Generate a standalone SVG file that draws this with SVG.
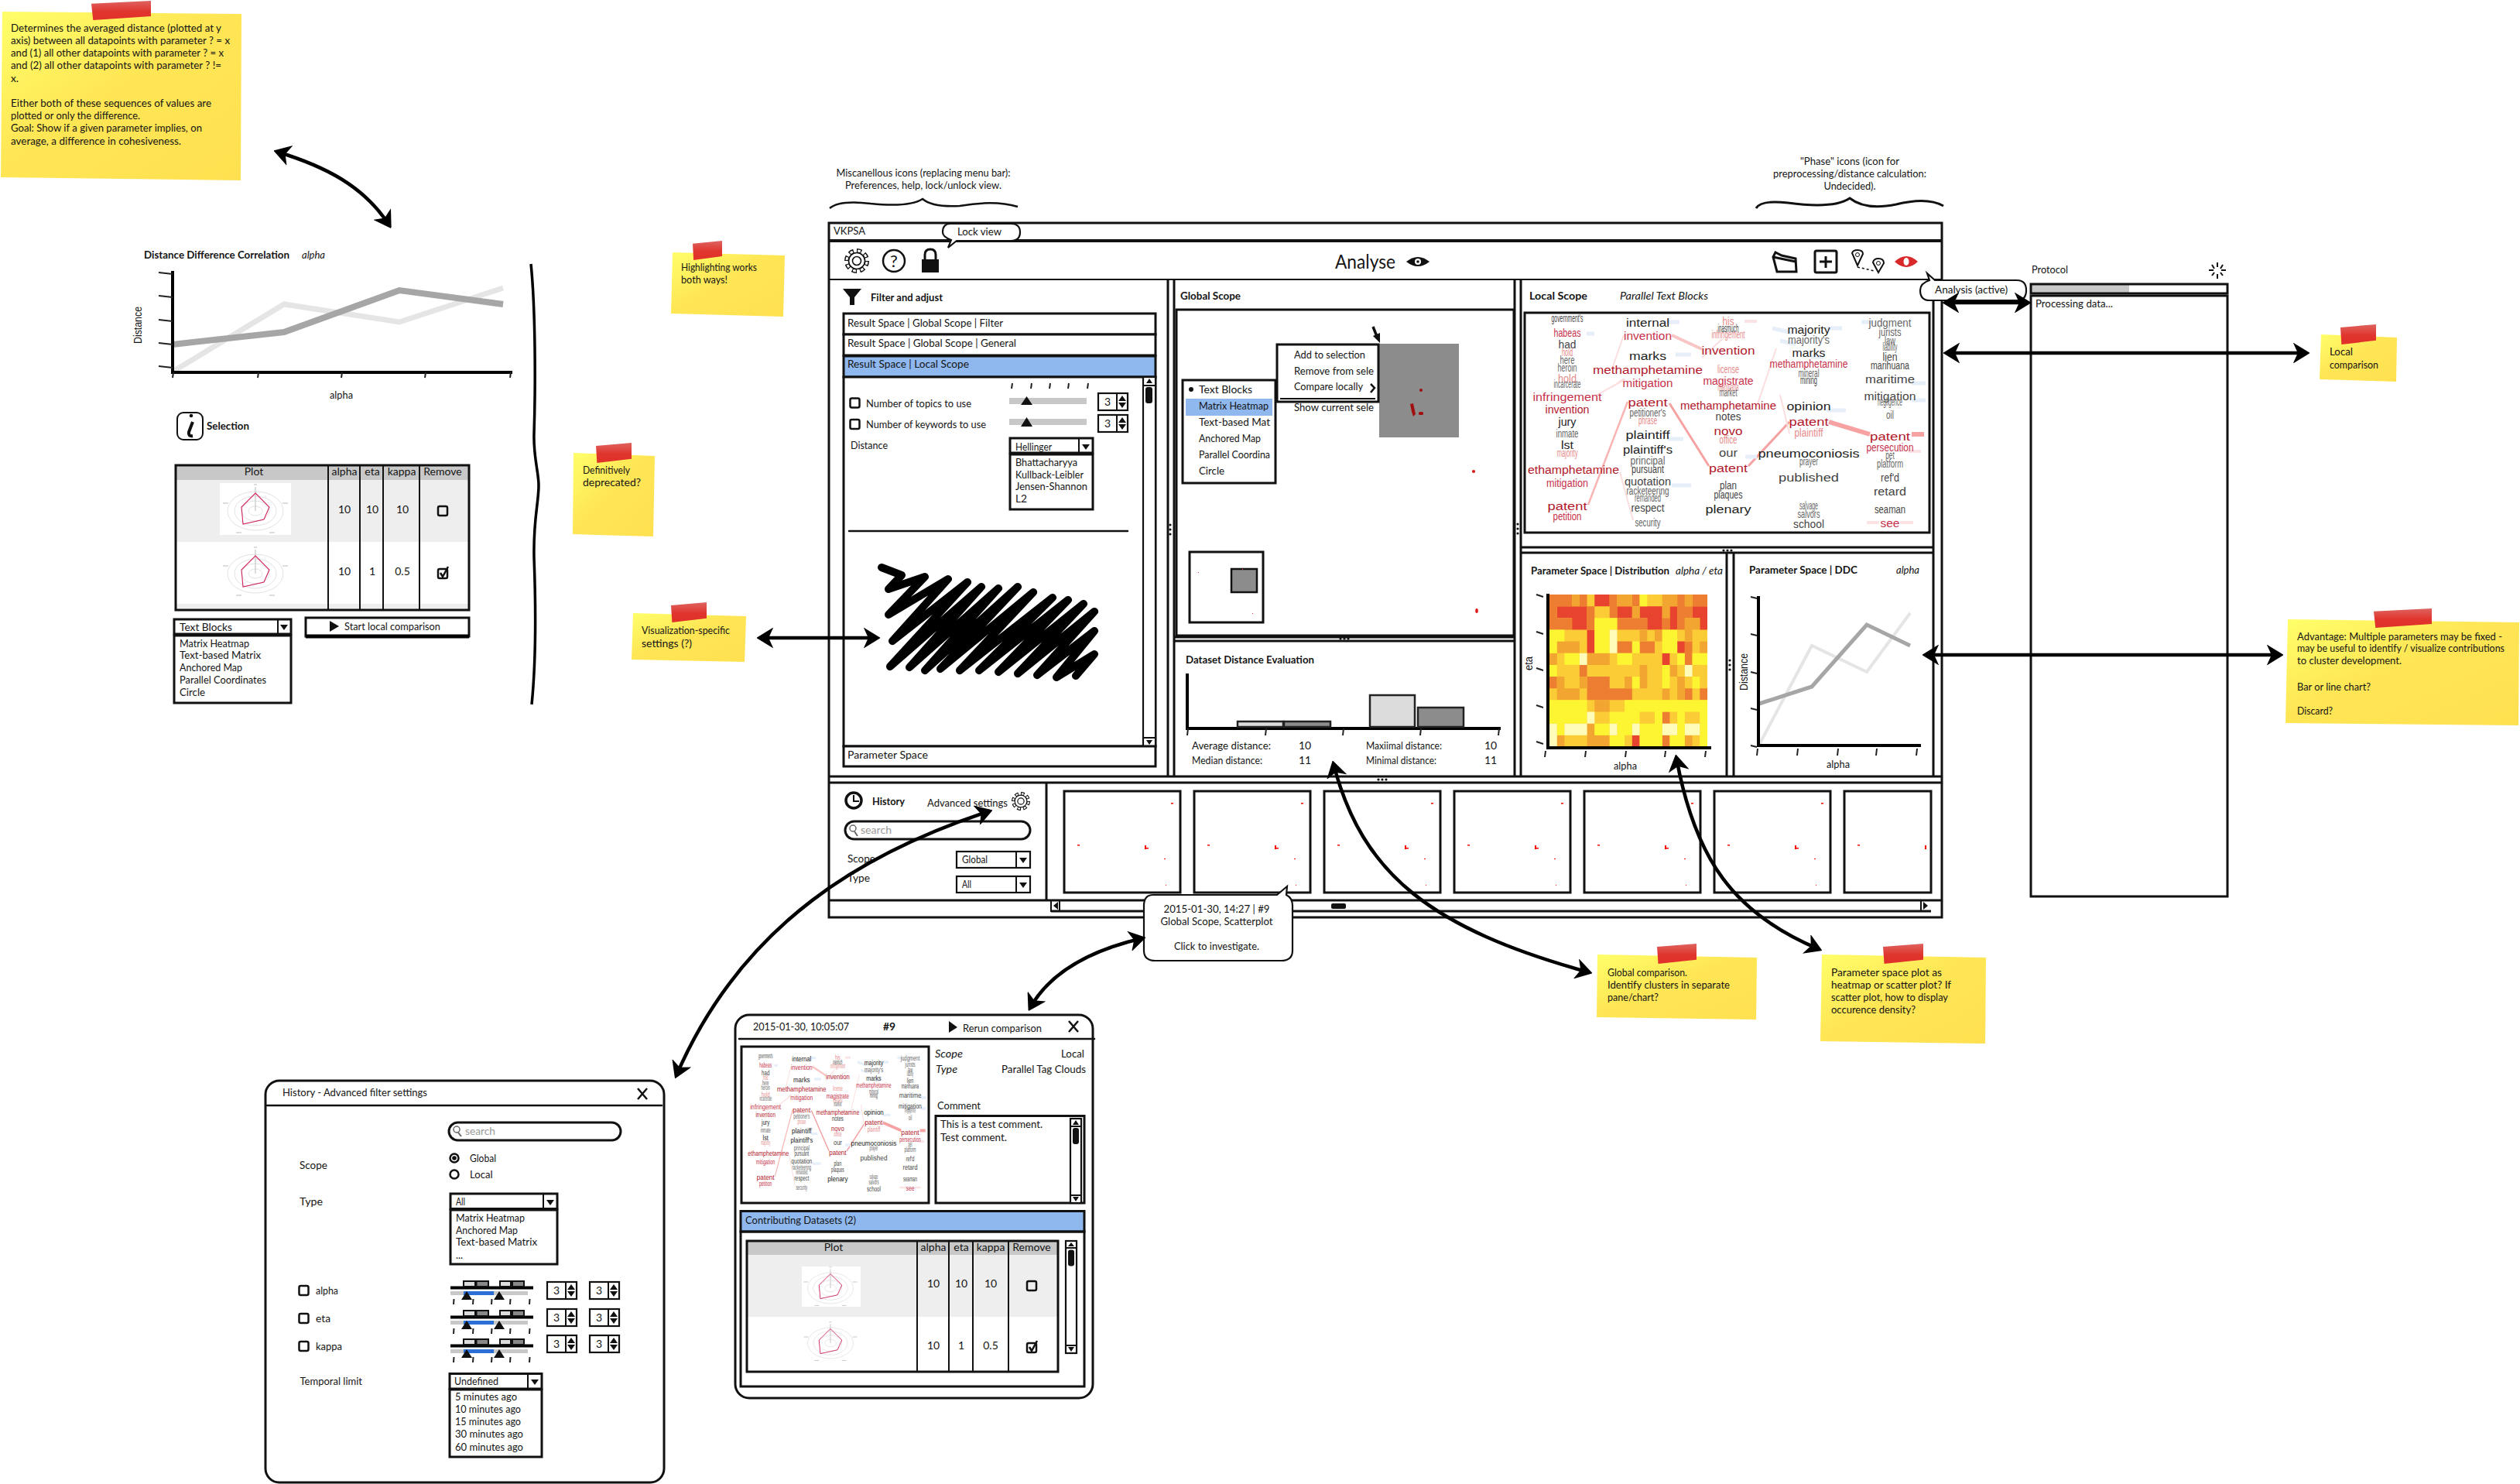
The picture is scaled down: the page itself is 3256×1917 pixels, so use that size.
<svg xmlns="http://www.w3.org/2000/svg" xmlns:xlink="http://www.w3.org/1999/xlink" width="3256" height="1917" viewBox="0 0 3256 1917">
<style>
text{font-family:Lato,"Liberation Sans",sans-serif;font-size:14px;fill:#141414}
.b{font-weight:700}.i{font-style:italic}.m{text-anchor:middle}.g{fill:#9a9a9a}
.l{fill:none;stroke:#111;stroke-width:2.5;stroke-linecap:round}
.bx{fill:#fff;stroke:#111;stroke-width:3}
.bt{fill:#fff;stroke:#111;stroke-width:2.2}
.n{fill:none;stroke:#111;stroke-width:3}
.nt{fill:none;stroke:#111;stroke-width:2}
.arrow{fill:none;stroke:#000;stroke-width:4.5;marker-start:url(#ah);marker-end:url(#ah)}
.ax{fill:none;stroke:#000;stroke-width:4}
.tk{fill:none;stroke:#222;stroke-width:2}
.wc text{font-family:"Liberation Sans",Arial,sans-serif;text-anchor:middle}
.r1{fill:#b2182b}.r2{fill:#c6304a}.r3{fill:#e58a8a}.k1{fill:#222}.k2{fill:#444}.k3{fill:#666}
.hm path{fill:none;stroke-width:1}
</style>
<defs>
<linearGradient id="ng" x1="0" y1="0" x2="1" y2="1"><stop offset="0" stop-color="#ffff6a"/><stop offset=".45" stop-color="#ffe655"/><stop offset="1" stop-color="#ffe050"/></linearGradient>
<linearGradient id="tg" x1="0" y1="0" x2="0" y2="1"><stop offset="0" stop-color="#de6360"/><stop offset=".55" stop-color="#e0352d"/><stop offset="1" stop-color="#e0302a"/></linearGradient>
<marker id="ah" viewBox="-18 -13 22 26" refX="0" refY="0" markerWidth="22" markerHeight="26" markerUnits="userSpaceOnUse" orient="auto-start-reverse"><path d="M-15 -11L3 0L-15 11L-10 0Z" fill="#000" stroke="#000" stroke-width="2"/></marker>
<path id="tape" d="M0 .15L1 0V.8L.03 1Z" fill="url(#tg)"/>
<path id="da" d="M-5 -3H5L0 4Z" fill="#111"/>
<g id="spin"><rect x="0" y="0" width="38" height="22" class="bt"/><path d="M24 0V22" class="nt"/><path d="M26 10L31 3L36 10ZM26 12H36L31 19Z" fill="#111"/><text x="12" y="16" class="m">3</text></g>
<rect id="chk" x="-6" y="-6" width="12" height="12" rx="2" fill="none" stroke="#111" stroke-width="2.5"/>
<path id="ck" d="M-3 -1L0 4L7 -9" fill="none" stroke="#111" stroke-width="2.5"/>
<g id="radar"><ellipse rx="36" ry="25" fill="none" stroke="#e2e2e2"/><ellipse rx="27" ry="19" fill="none" stroke="#e2e2e2"/><ellipse rx="18" ry="13" fill="none" stroke="#e2e2e2"/><ellipse rx="9" ry="6" fill="none" stroke="#e2e2e2"/><path d="M0 -31V0M-42 -10h7M42 -10h-7M-25 28h7M25 28h-7M-2 -34h4" fill="none" stroke="#bbb"/><path d="M0 -23L18 -5L11 11L-16 17L-18 -5Z" fill="none" stroke="#d0235f" stroke-width="1.1"/></g>
<g id="ts" fill="none" stroke="#222" stroke-width="2"><path d="M4 0L3 7M29 0L28 7M53 0L52 7M77 0L76 7M102 0L101 7"/></g>
<g id="gh" fill="#111"><circle cx="-5" r="1.6"/><circle r="1.6"/><circle cx="5" r="1.6"/></g>
<g id="gv" fill="#111"><circle cy="-6" r="1.6"/><circle r="1.6"/><circle cy="6" r="1.6"/></g>
<g id="gear"><circle r="13" pathLength="80" fill="none" stroke="#111" stroke-width="6" stroke-dasharray="6 4"/><circle r="13" pathLength="80" fill="none" stroke="#fff" stroke-width="3" stroke-dasharray="3.6 6.4" stroke-dashoffset="-1.2"/><circle r="10.5" fill="#fff" stroke="#111" stroke-width="1.6"/><circle r="5.5" fill="#fff" stroke="#111" stroke-width="1.6"/></g>
<g id="thumb"><rect x="0" y="0" width="150" height="131" class="bx"/><g fill="#f00"><rect x="138" y="15" width="3" height="1.5"/><rect x="17" y="69" width="3" height="1.5"/><rect x="104" y="70" width="2" height="5"/><rect x="106" y="73" width="3" height="1.5"/><rect x="129" y="87" width="2" height="1"/><rect x="131" y="121" width="1" height="1"/></g></g>
<g id="rng"><path d="M582 1663.5H689" class="ax"/><path d="M599 1662V1655H614V1662ZM646 1662V1655H660V1662Z" fill="#ddd" stroke="#111" stroke-width="2"/><path d="M615.5 1662V1655H631V1662ZM662 1662V1655H677V1662Z" fill="#888" stroke="#111" stroke-width="2"/><rect x="582" y="1668" width="100" height="5" fill="#c8c8c8"/><rect x="599" y="1668" width="39" height="5" fill="#2b6fd6"/><path d="M596 1679L603 1668L610 1679ZM638 1679L645 1668L652 1679Z" fill="#111"/><path d="M586.5 1678L586 1685M611.5 1678L611 1685M635.5 1678L635 1685M659.5 1678L659 1685M684.5 1678L684 1685" class="tk"/></g>
<g id="wc" class="wc">
<g fill="none"><path d="M2363 545L2416 561" stroke="#f6a2a2" stroke-width="6"/><path d="M2470 561H2486" stroke="#f6a2a2" stroke-width="6"/><path d="M2157 521L2208 602M2259 602L2312 545" stroke="#f6a2a2" stroke-width="3"/><path d="M2052 652L2103 519" stroke="#f9b4b4" stroke-width="2.5"/><path d="M2160 433L2199 451" stroke="#f9c4c4" stroke-width="4"/><path d="M2083 476L2098 433M2199 462L2225 438M2083 500L2098 489M2060 512L2100 490M2093 610L2110 672M2270 525L2295 450M2300 510L2312 560" stroke="#fbdede" stroke-width="2"/><path d="M2050 431H2060M2150 416H2170M2185 458H2165M2360 424H2380M2405 416H2420M2356 461H2340M2155 567H2175M2160 627H2185M2255 590H2270M2360 530H2385M2470 495H2488M2470 517H2488M2290 424L2315 430M2320 445L2300 440" stroke="#e6eefa" stroke-width="5"/><path d="M2254 415H2270M2244 525H2260M2465 583H2482M2455 675H2472M2412 675H2428" stroke="#fce2e2" stroke-width="4"/></g>
<text x="2025" y="416" font-size="7" textLength="41" lengthAdjust="spacingAndGlyphs" class="k2">government's</text>
<text x="2025" y="435" font-size="12" textLength="35" lengthAdjust="spacingAndGlyphs" class="r2">habeas</text>
<text x="2025" y="450" font-size="14" textLength="23" lengthAdjust="spacingAndGlyphs" class="k2">had</text>
<text x="2025" y="460" font-size="9" textLength="14" lengthAdjust="spacingAndGlyphs" class="r3">hold</text>
<text x="2025" y="470" font-size="9" textLength="19" lengthAdjust="spacingAndGlyphs" class="k3">here</text>
<text x="2025" y="480" font-size="9" textLength="25" lengthAdjust="spacingAndGlyphs" class="k3">heroin</text>
<text x="2025" y="494" font-size="15" textLength="24" lengthAdjust="spacingAndGlyphs" class="r3">hold</text>
<text x="2025" y="501" font-size="6" textLength="35" lengthAdjust="spacingAndGlyphs" class="k3">incarcerate</text>
<text x="2025" y="518" font-size="18" textLength="89" lengthAdjust="spacingAndGlyphs" class="r2">infringement</text>
<text x="2025" y="534" font-size="15" textLength="57" lengthAdjust="spacingAndGlyphs" class="r1">invention</text>
<text x="2025" y="550" font-size="16" textLength="23" lengthAdjust="spacingAndGlyphs" class="k1">jury</text>
<text x="2025" y="564.5" font-size="10" textLength="29" lengthAdjust="spacingAndGlyphs" class="k3">inmate</text>
<text x="2025" y="580" font-size="17" textLength="16" lengthAdjust="spacingAndGlyphs" class="k1">lst</text>
<text x="2025" y="590" font-size="9" textLength="27" lengthAdjust="spacingAndGlyphs" class="r3">majority</text>
<text x="2033" y="612" font-size="18" textLength="118" lengthAdjust="spacingAndGlyphs" class="r1">ethamphetamine</text>
<text x="2025" y="629" font-size="14" textLength="54" lengthAdjust="spacingAndGlyphs" class="r2">mitigation</text>
<text x="2025" y="659" font-size="20" textLength="51" lengthAdjust="spacingAndGlyphs" class="r1">patent</text>
<text x="2025" y="672" font-size="12" textLength="37" lengthAdjust="spacingAndGlyphs" class="r2">petition</text>
<text x="2129" y="422" font-size="18" textLength="56" lengthAdjust="spacingAndGlyphs" class="k1">internal</text>
<text x="2129" y="439" font-size="17" textLength="62" lengthAdjust="spacingAndGlyphs" class="r2">invention</text>
<text x="2129" y="465" font-size="19" textLength="48" lengthAdjust="spacingAndGlyphs" class="k1">marks</text>
<text x="2129" y="483" font-size="20" textLength="142" lengthAdjust="spacingAndGlyphs" class="r1">methamphetamine</text>
<text x="2129" y="499.5" font-size="16" textLength="65" lengthAdjust="spacingAndGlyphs" class="r2">mitigation</text>
<text x="2129" y="525" font-size="20" textLength="51" lengthAdjust="spacingAndGlyphs" class="r1">patent</text>
<text x="2129" y="537.5" font-size="10" textLength="47" lengthAdjust="spacingAndGlyphs" class="k3">petitioner's</text>
<text x="2129" y="548" font-size="9" textLength="24" lengthAdjust="spacingAndGlyphs" class="r3">phrase</text>
<text x="2129" y="567" font-size="20" textLength="57" lengthAdjust="spacingAndGlyphs" class="k1">plaintiff</text>
<text x="2129" y="585.5" font-size="19" textLength="64" lengthAdjust="spacingAndGlyphs" class="k1">plaintiff's</text>
<text x="2129" y="600" font-size="13" textLength="45" lengthAdjust="spacingAndGlyphs" class="k3">principal</text>
<text x="2129" y="611" font-size="11" textLength="42" lengthAdjust="spacingAndGlyphs" class="k2">pursuant</text>
<text x="2129" y="627" font-size="15" textLength="60" lengthAdjust="spacingAndGlyphs" class="k2">quotation</text>
<text x="2129" y="639" font-size="12" textLength="55" lengthAdjust="spacingAndGlyphs" class="k3">racketeering</text>
<text x="2129" y="648" font-size="9" textLength="34" lengthAdjust="spacingAndGlyphs" class="k3">remanded</text>
<text x="2129" y="661" font-size="14" textLength="43" lengthAdjust="spacingAndGlyphs" class="k2">respect</text>
<text x="2129" y="680" font-size="10" textLength="33" lengthAdjust="spacingAndGlyphs" class="k3">security</text>
<text x="2233" y="420" font-size="14" textLength="15" lengthAdjust="spacingAndGlyphs" class="r3">his</text>
<text x="2233" y="428.5" font-size="7" textLength="27" lengthAdjust="spacingAndGlyphs" class="k2">inasmuch</text>
<text x="2233" y="437" font-size="9" textLength="43" lengthAdjust="spacingAndGlyphs" class="r3">infringement</text>
<text x="2233" y="458" font-size="19" textLength="69" lengthAdjust="spacingAndGlyphs" class="r1">invention</text>
<text x="2233" y="482" font-size="11" textLength="28" lengthAdjust="spacingAndGlyphs" class="r3">license</text>
<text x="2233" y="496.5" font-size="15" textLength="65" lengthAdjust="spacingAndGlyphs" class="r2">magistrate</text>
<text x="2233" y="504.5" font-size="7" textLength="27" lengthAdjust="spacingAndGlyphs" class="r3">marijuana</text>
<text x="2233" y="512" font-size="8" textLength="23" lengthAdjust="spacingAndGlyphs" class="k3">market</text>
<text x="2233" y="529" font-size="18" textLength="124" lengthAdjust="spacingAndGlyphs" class="r1">methamphetamine</text>
<text x="2233" y="542.5" font-size="13" textLength="33" lengthAdjust="spacingAndGlyphs" class="k2">notes</text>
<text x="2233" y="562" font-size="19" textLength="37" lengthAdjust="spacingAndGlyphs" class="r1">novo</text>
<text x="2233" y="573" font-size="11" textLength="23" lengthAdjust="spacingAndGlyphs" class="r3">office</text>
<text x="2233" y="590" font-size="18" textLength="24" lengthAdjust="spacingAndGlyphs" class="k2">our</text>
<text x="2233" y="610" font-size="19" textLength="50" lengthAdjust="spacingAndGlyphs" class="r1">patent</text>
<text x="2233" y="631.5" font-size="13" textLength="22" lengthAdjust="spacingAndGlyphs" class="k2">plan</text>
<text x="2233" y="644" font-size="12" textLength="37" lengthAdjust="spacingAndGlyphs" class="k2">plaques</text>
<text x="2233" y="663" font-size="20" textLength="59" lengthAdjust="spacingAndGlyphs" class="k1">plenary</text>
<text x="2337" y="430.5" font-size="18" textLength="55" lengthAdjust="spacingAndGlyphs" class="k1">majority</text>
<text x="2337" y="444" font-size="14" textLength="54" lengthAdjust="spacingAndGlyphs" class="k3">majority's</text>
<text x="2337" y="461" font-size="18" textLength="43" lengthAdjust="spacingAndGlyphs" class="k1">marks</text>
<text x="2337" y="475" font-size="14" textLength="101" lengthAdjust="spacingAndGlyphs" class="r2">methamphetamine</text>
<text x="2337" y="487" font-size="9" textLength="27" lengthAdjust="spacingAndGlyphs" class="k3">mineral</text>
<text x="2337" y="496" font-size="8" textLength="22" lengthAdjust="spacingAndGlyphs" class="k2">mining</text>
<text x="2337" y="530" font-size="21" textLength="57" lengthAdjust="spacingAndGlyphs" class="k1">opinion</text>
<text x="2337" y="550" font-size="20" textLength="51" lengthAdjust="spacingAndGlyphs" class="r1">patent</text>
<text x="2337" y="563.5" font-size="13" textLength="37" lengthAdjust="spacingAndGlyphs" class="r3">plaintiff</text>
<text x="2337" y="591" font-size="21" textLength="131" lengthAdjust="spacingAndGlyphs" class="k1">pneumoconiosis</text>
<text x="2337" y="600.5" font-size="7" textLength="24" lengthAdjust="spacingAndGlyphs" class="k3">prayer</text>
<text x="2337" y="621.5" font-size="20" textLength="78" lengthAdjust="spacingAndGlyphs" class="k2">published</text>
<text x="2337" y="658" font-size="7" textLength="24" lengthAdjust="spacingAndGlyphs" class="k3">salvage</text>
<text x="2337" y="668.5" font-size="10" textLength="29" lengthAdjust="spacingAndGlyphs" class="k3">salvors</text>
<text x="2337" y="682" font-size="13" textLength="40" lengthAdjust="spacingAndGlyphs" class="k2">school</text>
<text x="2442" y="421.6" font-size="16" textLength="55" lengthAdjust="spacingAndGlyphs" class="k3">judgment</text>
<text x="2442" y="434" font-size="13" textLength="29" lengthAdjust="spacingAndGlyphs" class="k3">jurists</text>
<text x="2442" y="444.5" font-size="11" textLength="14" lengthAdjust="spacingAndGlyphs" class="k3">law</text>
<text x="2442" y="452.5" font-size="8" textLength="19" lengthAdjust="spacingAndGlyphs" class="k3">liability</text>
<text x="2442" y="466" font-size="16" textLength="19" lengthAdjust="spacingAndGlyphs" class="k2">lien</text>
<text x="2442" y="477" font-size="11" textLength="50" lengthAdjust="spacingAndGlyphs" class="k2">marihuana</text>
<text x="2442" y="495" font-size="19" textLength="64" lengthAdjust="spacingAndGlyphs" class="k2">maritime</text>
<text x="2442" y="517" font-size="19" textLength="67" lengthAdjust="spacingAndGlyphs" class="k2">mitigation</text>
<text x="2442" y="524.4" font-size="8" textLength="32" lengthAdjust="spacingAndGlyphs" class="k3">negligence</text>
<text x="2442" y="541" font-size="10" textLength="10" lengthAdjust="spacingAndGlyphs" class="k3">oil</text>
<text x="2442" y="569" font-size="21" textLength="52" lengthAdjust="spacingAndGlyphs" class="r1">patent</text>
<text x="2442" y="583" font-size="13" textLength="61" lengthAdjust="spacingAndGlyphs" class="r2">persecution</text>
<text x="2442" y="593" font-size="9" textLength="11.5" lengthAdjust="spacingAndGlyphs" class="k3">pet</text>
<text x="2442" y="604" font-size="12" textLength="34" lengthAdjust="spacingAndGlyphs" class="k3">platform</text>
<text x="2442" y="622" font-size="15" textLength="24" lengthAdjust="spacingAndGlyphs" class="k2">ref'd</text>
<text x="2442" y="640" font-size="19" textLength="42" lengthAdjust="spacingAndGlyphs" class="k2">retard</text>
<text x="2442" y="663" font-size="12" textLength="40" lengthAdjust="spacingAndGlyphs" class="k2">seaman</text>
<text x="2442" y="681" font-size="16" textLength="25" lengthAdjust="spacingAndGlyphs" class="r2">see</text>
</g>
</defs>
<rect width="3256" height="1917" fill="#fff"/>

<g id="note-ddc"><path d="M3 15L312 18L311 233L1 229Z" fill="url(#ng)"/><use href="#tape" transform="translate(118 1) scale(77 25)"/>
<text x="14" y="41" textLength="272" lengthAdjust="spacingAndGlyphs">Determines the averaged distance (plotted at y</text>
<text x="14" y="57" textLength="283" lengthAdjust="spacingAndGlyphs">axis) between all datapoints with parameter ? = x</text>
<text x="14" y="73" textLength="275" lengthAdjust="spacingAndGlyphs">and (1) all other datapoints with parameter ? = x</text>
<text x="14" y="89" textLength="272" lengthAdjust="spacingAndGlyphs">and (2) all other datapoints with parameter ? !=</text>
<text x="14" y="106" textLength="10" lengthAdjust="spacingAndGlyphs">x.</text>
<text x="14" y="138" textLength="259" lengthAdjust="spacingAndGlyphs">Either both of these sequences of values are</text>
<text x="14" y="154" textLength="167" lengthAdjust="spacingAndGlyphs">plotted or only the difference.</text>
<text x="14" y="170" textLength="247" lengthAdjust="spacingAndGlyphs">Goal: Show if a given parameter implies, on</text>
<text x="14" y="187" textLength="220" lengthAdjust="spacingAndGlyphs">average, a difference in cohesiveness.</text></g>

<g id="ddc-chart">
<text x="186" y="334" textLength="188" lengthAdjust="spacingAndGlyphs" class="b">Distance Difference Correlation</text>
<text x="390" y="334" textLength="30" lengthAdjust="spacingAndGlyphs" class="i">alpha</text>
<path d="M225 479L367 393L516 416L650 372" fill="none" stroke="#e5e5e5" stroke-width="7"/>
<path d="M223 445L367 429L516 375L650 393" fill="none" stroke="#a6a6a6" stroke-width="8"/>
<path d="M223 350V481H662" class="ax"/>
<path d="M205 352L223 354M205 382L223 384M205 413L223 415M205 443L223 445M205 473L223 475M224 481L223 488M334 481L333 488M442 481L441 488M550 481L549 488M660 481L659 488" class="tk"/>
<text transform="translate(183 420) rotate(-90)" class="m" textLength="48" lengthAdjust="spacingAndGlyphs" style="font-family:'Liberation Sans'">Distance</text>
<text x="441" y="515" class="m" textLength="30" lengthAdjust="spacingAndGlyphs">alpha</text>
</g>
<path id="brace-left" d="M686 341C692 400 692 500 690 560C689 590 696 610 696 627C696 650 689 670 690 720C693 800 692 860 687 910" fill="none" stroke="#000" stroke-width="3.5"/>

<g id="selection">
<rect x="229" y="533" width="33" height="35" rx="8" fill="none" stroke="#111" stroke-width="2"/><circle cx="247" cy="537" r="2.3" fill="#111"/><path d="M249 545L244 558Q243 564 249 563" fill="none" stroke="#111" stroke-width="4"/>
<text x="267" y="555" class="b" textLength="55" lengthAdjust="spacingAndGlyphs">Selection</text>
<rect x="227" y="601" width="379" height="19" fill="#c8c8c8"/><rect x="227" y="620" width="379" height="80" fill="#eee"/><rect x="227" y="780" width="379" height="8" fill="#eee"/><rect x="284" y="624" width="92" height="67" fill="#fff"/>
<use href="#radar" x="330" y="660"/><use href="#radar" x="330" y="741"/>
<rect x="227" y="601" width="379" height="187" class="n"/>
<path d="M424 601V788M465 601V788M495 601V788M542 601V788" class="nt"/>
<text x="328" y="614" class="m">Plot</text><text x="445" y="614" class="m">alpha</text><text x="481" y="614" class="m">eta</text><text x="519" y="614" class="m">kappa</text><text x="572" y="614" class="m">Remove</text>
<text x="445" y="663" class="m">10</text><text x="481" y="663" class="m">10</text><text x="520" y="663" class="m">10</text><text x="445" y="743" class="m">10</text><text x="481" y="743" class="m">1</text><text x="520" y="743" class="m">0.5</text>
<use href="#chk" x="572" y="660"/><use href="#chk" x="572" y="741"/><use href="#ck" x="572" y="741"/>
<rect x="225" y="800" width="151" height="19" class="bx"/><path d="M359 800V819" class="nt"/><use href="#da" x="367" y="810"/>
<text x="232" y="815" textLength="68" lengthAdjust="spacingAndGlyphs">Text Blocks</text>
<rect x="225" y="821" width="151" height="87" class="bx"/>
<text x="232" y="836" textLength="90" lengthAdjust="spacingAndGlyphs">Matrix Heatmap</text><text x="232" y="851" textLength="105" lengthAdjust="spacingAndGlyphs">Text-based Matrix</text><text x="232" y="867" textLength="81" lengthAdjust="spacingAndGlyphs">Anchored Map</text><text x="232" y="883" textLength="112" lengthAdjust="spacingAndGlyphs">Parallel Coordinates</text><text x="232" y="899" textLength="33" lengthAdjust="spacingAndGlyphs">Circle</text>
<rect x="395" y="798" width="211" height="24" class="bx"/><path d="M395 822H606" stroke="#000" stroke-width="5"/><path d="M426 802L438 809L426 816Z" fill="#111"/>
<text x="445" y="814" textLength="124" lengthAdjust="spacingAndGlyphs">Start local comparison</text>
</g>

<g id="note-deprecated"><path d="M741 585L846 589L844 693L740 690Z" fill="url(#ng)"/><use href="#tape" transform="translate(770 572) scale(46 26)"/><text x="753" y="612" textLength="61" lengthAdjust="spacingAndGlyphs">Definitively</text><text x="753" y="628" textLength="75" lengthAdjust="spacingAndGlyphs">deprecated?</text></g>
<g id="note-vis"><path d="M818 792L964 796L962 855L816 852Z" fill="url(#ng)"/><use href="#tape" transform="translate(867 778) scale(46 26)"/><text x="829" y="819" textLength="114" lengthAdjust="spacingAndGlyphs">Visualization-specific</text><text x="829" y="836" textLength="65" lengthAdjust="spacingAndGlyphs">settings (?)</text></g>
<g id="note-highlight"><path d="M869 326L1014 330L1012 409L867 405Z" fill="url(#ng)"/><use href="#tape" transform="translate(895 311) scale(38 25)"/><text x="880" y="350" textLength="98" lengthAdjust="spacingAndGlyphs">Highlighting works</text><text x="880" y="366" textLength="60" lengthAdjust="spacingAndGlyphs">both ways!</text></g>

<g id="annotations">
<text x="1193" y="228" class="m" textLength="225" lengthAdjust="spacingAndGlyphs">Miscanellous icons (replacing menu bar):</text>
<text x="1193" y="244" class="m" textLength="202" lengthAdjust="spacingAndGlyphs">Preferences, help, lock/unlock view.</text>
<path d="M1072 269Q1085 258 1125 263Q1175 268 1192 257Q1205 268 1240 266Q1285 258 1315 267" fill="none" stroke="#111" stroke-width="2.5"/>
<text x="2390" y="213" class="m" textLength="128" lengthAdjust="spacingAndGlyphs">"Phase" icons (icon for</text>
<text x="2390" y="229" class="m" textLength="198" lengthAdjust="spacingAndGlyphs">preprocessing/distance calculation:</text>
<text x="2390" y="245" class="m" textLength="67" lengthAdjust="spacingAndGlyphs">Undecided).</text>
<path d="M2269 269Q2275 258 2310 262Q2370 270 2390 256Q2410 272 2450 264Q2490 254 2511 266" fill="none" stroke="#111" stroke-width="3"/>
</g>

<g id="window">
<rect x="1071" y="288" width="1438" height="897" class="bx"/>
<path d="M1071 311H2509" fill="none" stroke="#111" stroke-width="4"/><path d="M1071 361H2509" class="nt"/>
<text x="1077" y="303" textLength="41" lengthAdjust="spacingAndGlyphs">VKPSA</text>
<use href="#gear" x="1107" y="337"/>
<circle cx="1155" cy="337" r="14" fill="none" stroke="#111" stroke-width="2.5"/><text x="1155" y="345" class="m" style="font-size:22px">?</text>
<path d="M1195 337V329Q1195 322 1202 322Q1209 322 1209 329V337" fill="none" stroke="#111" stroke-width="3"/><rect x="1191" y="335" width="22" height="17" fill="#111"/>
<text x="1725" y="347" textLength="78" lengthAdjust="spacingAndGlyphs" style="font-size:25px">Analyse</text>
<path d="M1817 338Q1832 326 1847 338Q1832 350 1817 338Z" fill="#111"/><circle cx="1832" cy="338" r="4" fill="#fff"/><circle cx="1832" cy="338" r="1.8" fill="#111"/>
<path d="M2291 332L2294 326L2302 330L2320 334L2321 351L2296 351Z" fill="none" stroke="#111" stroke-width="3"/><path d="M2291 332L2320 338" fill="none" stroke="#111" stroke-width="3"/>
<rect x="2345" y="324" width="28" height="28" rx="2" fill="none" stroke="#111" stroke-width="3"/><path d="M2359 331V346M2351 338H2367" fill="none" stroke="#111" stroke-width="3"/>
<path d="M2400 343L2393 327Q2394 323 2400 323Q2407 323 2407 328Z" fill="none" stroke="#111" stroke-width="2"/><circle cx="2400" cy="329" r="2.5" fill="none" stroke="#111"/><path d="M2427 352L2420 339Q2421 334 2427 334Q2434 334 2434 340Z" fill="none" stroke="#111" stroke-width="2"/><circle cx="2427" cy="340" r="2.5" fill="none" stroke="#111"/><path d="M2400 345L2422 350" fill="none" stroke="#111" stroke-width="1.5" stroke-dasharray="3 3"/>
<path d="M2448 338Q2463 324 2478 338Q2463 352 2448 338Z" fill="#d9282a"/><ellipse cx="2463" cy="338" rx="3.5" ry="5" fill="#fff"/>

<g id="panel-filter">
<path d="M1089 373H1113L1104 384V394H1098V384Z" fill="#111"/>
<text x="1125" y="389" class="b" textLength="93" lengthAdjust="spacingAndGlyphs">Filter and adjust</text>
<rect x="1090" y="405" width="403" height="27" class="bx"/><rect x="1090" y="432" width="403" height="27" class="bx"/><rect x="1090" y="460" width="403" height="27" fill="#8fb8ef" stroke="#111" stroke-width="3"/>
<text x="1095" y="422" textLength="201" lengthAdjust="spacingAndGlyphs">Result Space | Global Scope | Filter</text><text x="1095" y="448" textLength="218" lengthAdjust="spacingAndGlyphs">Result Space | Global Scope | General</text><text x="1095" y="475" textLength="157" lengthAdjust="spacingAndGlyphs">Result Space | Local Scope</text>
<rect x="1090" y="487" width="403" height="477" class="bx"/>
<rect x="1477" y="487" width="16" height="477" class="bt"/><path d="M1477 498H1493M1477 953H1493" class="nt"/><rect x="1480" y="500" width="9" height="21" rx="3" fill="#111"/><path d="M1481 495L1485 489L1489 495ZM1481 956H1489L1485 962Z" fill="#111"/>
<use href="#ts" x="1304" y="495"/>
<use href="#chk" x="1104.5" y="520.5"/><use href="#chk" x="1104.5" y="548"/>
<text x="1119" y="526" textLength="136" lengthAdjust="spacingAndGlyphs">Number of topics to use</text><text x="1119" y="553" textLength="155" lengthAdjust="spacingAndGlyphs">Number of keywords to use</text>
<rect x="1304" y="514" width="100" height="8" fill="#c8c8c8"/><rect x="1304" y="541" width="100" height="8" fill="#c8c8c8"/><path d="M1319 523L1326.5 512L1334 523ZM1319 551L1326.5 539L1334 551Z" fill="#111"/>
<use href="#spin" x="1419" y="508"/><use href="#spin" x="1419" y="536"/>
<text x="1099" y="580" textLength="48" lengthAdjust="spacingAndGlyphs">Distance</text>
<rect x="1305" y="566" width="107" height="19" class="bx"/><path d="M1394 566V585" class="nt"/><use href="#da" x="1403" y="577"/><text x="1312" y="582" textLength="47" lengthAdjust="spacingAndGlyphs">Hellinger</text>
<rect x="1305" y="587" width="107" height="71" class="bx"/><text x="1312" y="602" textLength="80" lengthAdjust="spacingAndGlyphs">Bhattacharyya</text><text x="1312" y="618" textLength="88" lengthAdjust="spacingAndGlyphs">Kullback-Leibler</text><text x="1312" y="633" textLength="93" lengthAdjust="spacingAndGlyphs">Jensen-Shannon</text><text x="1312" y="649" textLength="15" lengthAdjust="spacingAndGlyphs">L2</text>
<path d="M1097 686H1457" class="l"/>
<path d="M1139 733L1165 743L1148 761L1195 745L1148 794L1225 748L1153 828L1250 752L1150 861L1268 758L1175 862L1290 760L1195 866L1315 758L1215 864L1335 765L1240 866L1360 772L1265 866L1380 775L1290 868L1400 780L1315 870L1414 790L1340 872L1414 815L1365 875L1414 845L1390 873" fill="none" stroke="#000" stroke-width="10" stroke-linejoin="round" stroke-linecap="round"/>
<rect x="1090" y="964" width="403" height="26" class="bx"/><text x="1095" y="980" textLength="104" lengthAdjust="spacingAndGlyphs">Parameter Space</text>
</g>

<g id="panel-frames" class="n">
<path d="M1509 361V1003M1517 361V1003M1957 361V1003M1965 361V1003M1517 823H1957M1517 828H1957M1965 707H2498M1965 714H2498M2231 714V1003M2240 714V1003M2498 388V1003M1071 1003H2509M1071 1011H2509"/>
</g>
<use href="#gv" x="1512" y="684"/><use href="#gh" x="1737" y="825"/><use href="#gh" x="2232" y="711"/><use href="#gh" x="1786" y="1007"/><use href="#gv" x="2235" y="859"/><use href="#gv" x="1961" y="683"/>

<g id="panel-global">
<text x="1525" y="387" class="b" textLength="78" lengthAdjust="spacingAndGlyphs">Global Scope</text>
<rect x="1520" y="400" width="436" height="421" class="bx"/>
<rect x="1782" y="444" width="103" height="121" fill="#8c8c8c"/>
<g fill="#a01010"><circle cx="1836" cy="504" r="2"/><path d="M1822 522L1826 521L1829 535L1826 538L1824 532Z"/><rect x="1833" y="532" width="6" height="4" rx="1.5"/></g>
<circle cx="1904" cy="609" r="2" fill="#e01515"/><ellipse cx="1908" cy="789" rx="1.8" ry="3" fill="#e01515"/>
<rect x="1528" y="491" width="120" height="133" class="bx"/><rect x="1532" y="515" width="112" height="22" fill="#8fb8ef"/><circle cx="1539" cy="503" r="3" fill="#111"/>
<text x="1549" y="508" textLength="69" lengthAdjust="spacingAndGlyphs">Text Blocks</text><text x="1549" y="529" textLength="90" lengthAdjust="spacingAndGlyphs">Matrix Heatmap</text><text x="1549" y="550" textLength="92" lengthAdjust="spacingAndGlyphs">Text-based Mat</text><text x="1549" y="571" textLength="80" lengthAdjust="spacingAndGlyphs">Anchored Map</text><text x="1549" y="592" textLength="92" lengthAdjust="spacingAndGlyphs">Parallel Coordina</text><text x="1549" y="613" textLength="33" lengthAdjust="spacingAndGlyphs">Circle</text>
<text x="1672" y="530.5" textLength="103" lengthAdjust="spacingAndGlyphs">Show current sele</text>
<rect x="1650" y="445" width="131" height="74" class="bx"/>
<text x="1672" y="463" textLength="92" lengthAdjust="spacingAndGlyphs">Add to selection</text><text x="1672" y="484" textLength="103" lengthAdjust="spacingAndGlyphs">Remove from sele</text><text x="1672" y="504" textLength="89" lengthAdjust="spacingAndGlyphs">Compare locally</text>
<path d="M1771 496L1776 501L1771 507" fill="none" stroke="#111" stroke-width="2.5"/><path d="M1654 515H1777" stroke="#111" stroke-width="2"/>
<path d="M1774 422L1780 437" stroke="#111" stroke-width="3.5"/><path d="M1774 434L1783 443L1783 430Z" fill="#111"/>
<rect x="1537" y="713" width="95" height="91" class="bx"/><rect x="1591" y="735" width="33" height="30" fill="#8c8c8c" stroke="#111" stroke-width="2.5"/><g fill="#f33"><rect x="1548" y="739" width="1" height="1"/><rect x="1605" y="735" width="1" height="1"/><rect x="1618" y="792" width="1" height="1"/></g>
</g>

<g id="panel-eval">
<text x="1532" y="857" class="b" textLength="166" lengthAdjust="spacingAndGlyphs">Dataset Distance Evaluation</text>
<path d="M1534 870V941H1939" class="ax"/><path d="M1535 941L1534 950M1636 941L1635 950M1736 941L1735 950M1836 941L1835 950M1937 941L1936 950" class="tk"/>
<g stroke="#222" stroke-width="2.5"><rect x="1599" y="932" width="59" height="7" fill="#dcdcdc"/><rect x="1659" y="932" width="60" height="7" fill="#8c8c8c"/><rect x="1770" y="898" width="58" height="41" fill="#dcdcdc"/><rect x="1832" y="914" width="59" height="25" fill="#8c8c8c"/></g>
<text x="1540" y="968" textLength="102" lengthAdjust="spacingAndGlyphs">Average distance:</text><text x="1540" y="987" textLength="91" lengthAdjust="spacingAndGlyphs">Median distance:</text><text x="1686" y="968" class="m">10</text><text x="1686" y="987" class="m">11</text>
<text x="1765" y="968" textLength="98" lengthAdjust="spacingAndGlyphs">Maxiimal distance:</text><text x="1765" y="987" textLength="91" lengthAdjust="spacingAndGlyphs">Minimal distance:</text><text x="1926" y="968" class="m">10</text><text x="1926" y="987" class="m">11</text>
</g>

<g id="panel-local">
<text x="1976" y="387" class="b" textLength="75" lengthAdjust="spacingAndGlyphs">Local Scope</text><text x="2093" y="387" class="i" textLength="114" lengthAdjust="spacingAndGlyphs">Parallel Text Blocks</text>
<rect x="1970" y="404" width="523" height="284" class="bx"/>
<use href="#wc"/>
</g>

<g id="panel-dist">
<text x="1978" y="742" class="b" textLength="179" lengthAdjust="spacingAndGlyphs">Parameter Space | Distribution</text><text x="2165" y="742" class="i" textLength="61" lengthAdjust="spacingAndGlyphs">alpha / eta</text>
<g class="hm" transform="translate(2002 768) scale(9.714 15.15)">
<rect width="21" height="13" fill="#fbcc35"/>
<path stroke="#e8432e" d="M6 .5h2M1 1.5h4M9 1.5h2M12 1.5h3M16 1.5h1M19 1.5h2M3 2.5h2M13 2.5h2M16 2.5h1M20 2.5h1M5 3.5h1M5 4.5h1M17 4.5h1M15 5.5h1M11 12.5h1"/>
<path stroke="#ed7d31" d="M0 .5h3M4 .5h1M8 .5h1M11 .5h1M17 .5h1M19 .5h2M0 1.5h1M5 1.5h1M8 1.5h1M17 1.5h2M0 2.5h3M5 2.5h1M9 2.5h4M15 2.5h1M17 2.5h1M9 4.5h2M12 4.5h2M18 4.5h1M18 5.5h1M4 6.5h1M0 7.5h1M5 7.5h3M5 8.5h6M18 8.5h1M20 8.5h1M15 10.5h1M15 12.5h1"/>
<path stroke="#f2a530" d="M3 .5h1M9 .5h2M15 .5h2M18 .5h1M11 1.5h1M15 1.5h1M18 2.5h2M12 3.5h1M14 3.5h1M18 3.5h1M1 4.5h3M20 4.5h1M0 5.5h1M5 5.5h3M12 6.5h1M16 6.5h1M1 7.5h1M4 7.5h1M10 7.5h1M12 7.5h1M17 7.5h1M1 8.5h3M15 8.5h1M17 8.5h1M6 9.5h2M5 11.5h1M1 12.5h1M5 12.5h3M18 12.5h1"/>
<path stroke="#fef532" d="M12 .5h1M6 2.5h3M0 3.5h2M6 3.5h2M15 3.5h2M0 4.5h1M6 4.5h2M11 4.5h1M15 4.5h2M2 5.5h2M9 5.5h2M17 5.5h1M19 5.5h2M0 6.5h1M15 6.5h1M11 7.5h1M15 7.5h1M19 7.5h1M0 9.5h5M10 9.5h11M0 10.5h5M8 10.5h4M14 10.5h1M17 10.5h1M20 10.5h1M1 11.5h1M6 11.5h2M9 11.5h2M12 11.5h3M17 11.5h1M20 11.5h1M8 12.5h2M12 12.5h3M16 12.5h2M20 12.5h1"/>
<path stroke="#fffbb8" d="M8 3.5h1M8 4.5h1M4 5.5h1M18 6.5h1M5 10.5h1M0 11.5h1M2 11.5h3M8 11.5h1M11 11.5h1M15 11.5h2M18 11.5h2M0 12.5h1"/>
</g>
<path d="M2000 767V966H2211" class="ax"/>
<path d="M1985 768L1994 771M1985 816L1994 819M1985 863L1994 866M1985 911L1994 914M1985 958L1994 961M1997 970L1996 978M2049 970L2048 978M2101 970L2100 978M2152 970L2151 978M2204 970L2203 978" class="tk"/>
<text transform="translate(1980 857) rotate(-90)" class="m" textLength="18" lengthAdjust="spacingAndGlyphs" style="font-family:'Liberation Sans'">eta</text>
<text x="2100" y="994" class="m" textLength="30" lengthAdjust="spacingAndGlyphs">alpha</text>
</g>

<g id="panel-ddc">
<text x="2260" y="741" class="b" textLength="140" lengthAdjust="spacingAndGlyphs">Parameter Space | DDC</text><text x="2450" y="741" class="i" textLength="30" lengthAdjust="spacingAndGlyphs">alpha</text>
<path d="M2273 962L2341 834L2412 868L2468 792" fill="none" stroke="#e5e5e5" stroke-width="4"/>
<path d="M2273 909L2341 887L2412 807L2468 834" fill="none" stroke="#a6a6a6" stroke-width="5"/>
<path d="M2272 770V963H2482" class="ax"/>
<path d="M2262 771L2270 773M2262 819L2270 821M2262 868L2270 870M2262 915L2270 917M2262 963L2270 965M2271 967L2270 976M2323 967L2322 976M2375 967L2374 976M2425 967L2424 976M2477 967L2476 976" class="tk"/>
<text transform="translate(2258 868) rotate(-90)" class="m" textLength="48" lengthAdjust="spacingAndGlyphs" style="font-family:'Liberation Sans'">Distance</text>
<text x="2375" y="992" class="m" textLength="30" lengthAdjust="spacingAndGlyphs">alpha</text>
</g>

<g id="panel-history">
<circle cx="1103" cy="1034" r="10" fill="none" stroke="#111" stroke-width="3.5"/><path d="M1103 1027V1035H1110" fill="none" stroke="#111" stroke-width="2"/>
<text x="1127" y="1040" class="b" textLength="42" lengthAdjust="spacingAndGlyphs">History</text><text x="1198" y="1042" textLength="104" lengthAdjust="spacingAndGlyphs">Advanced settings</text><use href="#gear" transform="translate(1319 1035) scale(.75)"/>
<rect x="1092" y="1061" width="239" height="23" rx="11.5" class="bx"/><circle cx="1102" cy="1070" r="4" fill="none" stroke="#666" stroke-width="1.5"/><path d="M1104 1074L1108 1080" stroke="#666" stroke-width="2"/><text x="1112" y="1077" class="g" textLength="40" lengthAdjust="spacingAndGlyphs">search</text>
<text x="1095" y="1114" textLength="36" lengthAdjust="spacingAndGlyphs">Scope</text><text x="1095" y="1139" textLength="29" lengthAdjust="spacingAndGlyphs">Type</text>
<rect x="1236" y="1100" width="95" height="21" class="bt"/><path d="M1313 1100V1121" class="nt"/><use href="#da" x="1322" y="1111"/><text x="1243" y="1115" textLength="33" lengthAdjust="spacingAndGlyphs">Global</text>
<rect x="1236" y="1132" width="95" height="21" class="bt"/><path d="M1313 1132V1153" class="nt"/><use href="#da" x="1322" y="1143"/><text x="1243" y="1147" textLength="12" lengthAdjust="spacingAndGlyphs">All</text>
<path d="M1352 1011V1163M1071 1163H2509M1358 1177H2495" class="n"/>
<use href="#thumb" x="1375" y="1022"/><use href="#thumb" x="1543" y="1022"/><use href="#thumb" x="1711" y="1022"/><use href="#thumb" x="1879" y="1022"/><use href="#thumb" x="2047" y="1022"/><use href="#thumb" x="2215" y="1022"/>
<rect x="2383" y="1022" width="112" height="131" class="bx"/><g fill="#f00"><rect x="2400" y="1091" width="3" height="1.5"/><rect x="2487" y="1092" width="2" height="5"/></g>
<path d="M1358 1163V1177H1369V1163M2482 1163V1176" class="nt"/><path d="M1367 1165L1361 1170L1367 1175Z" fill="#111"/><path d="M2485 1165L2491 1170L2485 1175Z" fill="#111"/>
<rect x="1720" y="1167" width="19" height="7" rx="2" fill="#111"/>
</g>
</g>

<g id="tooltip-lock"><path d="M1228 289H1306Q1318 289 1318 300Q1318 311 1306 311H1236L1225 320L1229 310Q1218 306 1218 300Q1218 289 1228 289Z" class="bt"/><text x="1237" y="304" textLength="57" lengthAdjust="spacingAndGlyphs">Lock view</text></g>
<g id="tooltip-analysis"><path d="M2490 353L2500 362H2606Q2618 362 2618 375Q2618 388 2606 388H2493Q2481 388 2481 375Q2481 366 2493 362Z" class="bt"/><text x="2500" y="379" textLength="94" lengthAdjust="spacingAndGlyphs">Analysis (active)</text></g>
<g id="tooltip-thumb"><path d="M1490 1156H1650L1663 1145L1662 1156Q1670 1160 1670 1170V1228Q1670 1241 1655 1241H1493Q1478 1241 1478 1228V1170Q1478 1156 1490 1156Z" class="bt"/><text x="1572" y="1179" class="m" textLength="137" lengthAdjust="spacingAndGlyphs">2015-01-30, 14:27 | #9</text><text x="1572" y="1195" class="m" textLength="145" lengthAdjust="spacingAndGlyphs">Global Scope, Scatterplot</text><text x="1572" y="1227" class="m" textLength="110" lengthAdjust="spacingAndGlyphs">Click to investigate.</text></g>

<g id="protocol">
<text x="2625" y="353" textLength="47" lengthAdjust="spacingAndGlyphs">Protocol</text>
<g stroke="#111" stroke-width="2" fill="none"><path d="M2865 339V345M2872 342L2869 347M2876 349H2870M2872 356L2869 352M2865 360V354M2858 356L2861 352M2854 349H2860M2858 342L2861 347"/></g>
<rect x="2624" y="367" width="254" height="12" fill="#fff"/><rect x="2624" y="367" width="127" height="12" fill="#c8c8c8"/><rect x="2624" y="367" width="254" height="12" class="n"/>
<rect x="2624" y="382" width="254" height="776" class="bx"/>
<text x="2630" y="397" textLength="100" lengthAdjust="spacingAndGlyphs">Processing data...</text>
</g>
<g id="note-local"><path d="M2999 432L3097 436L3096 493L2997 490Z" fill="url(#ng)"/><use href="#tape" transform="translate(3024 419) scale(46 26)"/><text x="3010" y="459" textLength="30" lengthAdjust="spacingAndGlyphs">Local</text><text x="3010" y="476" textLength="63" lengthAdjust="spacingAndGlyphs">comparison</text></g>
<g id="note-advantage"><path d="M2956 800L3255 804L3254 937L2953 934Z" fill="url(#ng)"/><use href="#tape" transform="translate(3067 786) scale(75 25)"/>
<text x="2968" y="827" textLength="265" lengthAdjust="spacingAndGlyphs">Advantage: Multiple parameters may be fixed -</text><text x="2968" y="842" textLength="268" lengthAdjust="spacingAndGlyphs">may be useful to identify / visualize contributions</text><text x="2968" y="858" textLength="135" lengthAdjust="spacingAndGlyphs">to cluster development.</text><text x="2968" y="892" textLength="95" lengthAdjust="spacingAndGlyphs">Bar or line chart?</text><text x="2968" y="923" textLength="46" lengthAdjust="spacingAndGlyphs">Discard?</text></g>
<g id="note-global"><path d="M2064 1233L2270 1237L2269 1317L2063 1314Z" fill="url(#ng)"/><use href="#tape" transform="translate(2141 1219) scale(51 26)"/><text x="2077" y="1261" textLength="103" lengthAdjust="spacingAndGlyphs">Global comparison.</text><text x="2077" y="1277" textLength="158" lengthAdjust="spacingAndGlyphs">Identify clusters in separate</text><text x="2077" y="1293" textLength="66" lengthAdjust="spacingAndGlyphs">pane/chart?</text></g>
<g id="note-param"><path d="M2354 1233L2566 1237L2565 1348L2352 1345Z" fill="url(#ng)"/><use href="#tape" transform="translate(2433 1219) scale(52 26)"/><text x="2366" y="1261" textLength="143" lengthAdjust="spacingAndGlyphs">Parameter space plot as</text><text x="2366" y="1277" textLength="155" lengthAdjust="spacingAndGlyphs">heatmap or scatter plot? If</text><text x="2366" y="1293" textLength="151" lengthAdjust="spacingAndGlyphs">scatter plot, how to display</text><text x="2366" y="1309" textLength="109" lengthAdjust="spacingAndGlyphs">occurence density?</text></g>

<g id="dialog-advanced">
<rect x="343" y="1396" width="515" height="519" rx="18" class="bx"/><path d="M345 1428H855" class="l"/>
<text x="365" y="1416" textLength="187" lengthAdjust="spacingAndGlyphs">History - Advanced filter settings</text>
<path d="M824 1406L836 1420M836 1406L824 1420" fill="none" stroke="#111" stroke-width="2.5"/>
<rect x="580" y="1450" width="222" height="23" rx="11.5" class="bx"/><circle cx="590" cy="1459" r="4" fill="none" stroke="#666" stroke-width="1.5"/><path d="M592 1463L596 1468" stroke="#666" stroke-width="2"/><text x="601" y="1465.5" class="g" textLength="39" lengthAdjust="spacingAndGlyphs">search</text>
<text x="387" y="1510" textLength="36" lengthAdjust="spacingAndGlyphs">Scope</text>
<circle cx="587" cy="1496" r="5.5" fill="none" stroke="#111" stroke-width="2.5"/><circle cx="587" cy="1496" r="2.8" fill="#111"/><circle cx="587" cy="1517" r="5.5" fill="none" stroke="#111" stroke-width="2.5"/>
<text x="607" y="1501" textLength="34" lengthAdjust="spacingAndGlyphs">Global</text><text x="607" y="1522" textLength="29.5" lengthAdjust="spacingAndGlyphs">Local</text>
<text x="387" y="1557" textLength="30" lengthAdjust="spacingAndGlyphs">Type</text>
<rect x="582" y="1542" width="138" height="19.5" class="bx"/><path d="M702 1542V1561" class="nt"/><use href="#da" x="711" y="1553"/><text x="589" y="1557" textLength="12" lengthAdjust="spacingAndGlyphs">All</text>
<rect x="582" y="1563" width="138" height="70" class="bx"/><text x="589" y="1577.5" textLength="89" lengthAdjust="spacingAndGlyphs">Matrix Heatmap</text><text x="589" y="1593.5" textLength="80" lengthAdjust="spacingAndGlyphs">Anchored Map</text><text x="589" y="1609" textLength="105" lengthAdjust="spacingAndGlyphs">Text-based Matrix</text><text x="589" y="1626" textLength="9" lengthAdjust="spacingAndGlyphs">...</text>
<use href="#chk" x="392.5" y="1667"/><use href="#chk" x="392.5" y="1703"/><use href="#chk" x="392.5" y="1739"/>
<text x="408" y="1672" textLength="29" lengthAdjust="spacingAndGlyphs">alpha</text><text x="408" y="1708" textLength="19" lengthAdjust="spacingAndGlyphs">eta</text><text x="408" y="1744" textLength="34" lengthAdjust="spacingAndGlyphs">kappa</text>
<use href="#rng"/><use href="#rng" y="38"/><use href="#rng" y="75"/>
<use href="#spin" x="707" y="1656"/><use href="#spin" x="762" y="1656"/><use href="#spin" x="707" y="1691"/><use href="#spin" x="762" y="1691"/><use href="#spin" x="707" y="1725"/><use href="#spin" x="762" y="1725"/>
<text x="387.5" y="1789" textLength="80.5" lengthAdjust="spacingAndGlyphs">Temporal limit</text>
<rect x="581" y="1774.5" width="119" height="19.5" class="bx"/><path d="M682 1775V1794" class="nt"/><use href="#da" x="691" y="1785"/><text x="587" y="1789" textLength="57" lengthAdjust="spacingAndGlyphs">Undefined</text>
<rect x="581" y="1795" width="119" height="87" class="bx"/><text x="588" y="1809" textLength="80" lengthAdjust="spacingAndGlyphs">5 minutes ago</text><text x="588" y="1825" textLength="85" lengthAdjust="spacingAndGlyphs">10 minutes ago</text><text x="588" y="1841" textLength="85" lengthAdjust="spacingAndGlyphs">15 minutes ago</text><text x="588" y="1857" textLength="88" lengthAdjust="spacingAndGlyphs">30 minutes ago</text><text x="588" y="1874" textLength="88" lengthAdjust="spacingAndGlyphs">60 minutes ago</text>
</g>

<g id="dialog-detail">
<rect x="950" y="1311" width="462" height="495" rx="18" class="bx"/><path d="M955 1342H1414" class="l"/>
<text x="973" y="1331" textLength="124" lengthAdjust="spacingAndGlyphs">2015-01-30, 10:05:07</text><text x="1141" y="1331" class="b" textLength="16" lengthAdjust="spacingAndGlyphs">#9</text>
<path d="M1226 1319L1237 1327L1226 1334Z" fill="#111"/><text x="1244" y="1332.5" textLength="102" lengthAdjust="spacingAndGlyphs">Rerun comparison</text>
<path d="M1381 1319L1393 1333M1393 1319L1381 1333" fill="none" stroke="#111" stroke-width="2.5"/>
<rect x="958" y="1352" width="242" height="202" class="bx"/>
<use href="#wc" transform="matrix(.448 0 0 .646 82 1098)"/>
<text x="1208" y="1366" class="i" textLength="36" lengthAdjust="spacingAndGlyphs">Scope</text><text x="1371" y="1366" textLength="30" lengthAdjust="spacingAndGlyphs">Local</text><text x="1209" y="1386" class="i" textLength="28" lengthAdjust="spacingAndGlyphs">Type</text><text x="1294" y="1386" textLength="109" lengthAdjust="spacingAndGlyphs">Parallel Tag Clouds</text>
<text x="1211" y="1433" textLength="56" lengthAdjust="spacingAndGlyphs">Comment</text>
<rect x="1209" y="1441.5" width="192" height="112.5" class="bx"/><text x="1215" y="1457" textLength="132" lengthAdjust="spacingAndGlyphs">This is a test comment.</text><text x="1215" y="1473.5" textLength="86" lengthAdjust="spacingAndGlyphs">Test comment.</text>
<rect x="1383" y="1445" width="14" height="109" class="bt"/><path d="M1383 1455H1397M1383 1544H1397" class="nt"/><rect x="1386" y="1457" width="8" height="21" rx="3" fill="#111"/><path d="M1386 1453L1390 1447L1394 1453ZM1386 1546H1394L1390 1552Z" fill="#111"/>
<rect x="957" y="1564.5" width="444" height="26.5" fill="#8fb8ef" stroke="#111" stroke-width="3"/><text x="963" y="1581" textLength="143" lengthAdjust="spacingAndGlyphs">Contributing Datasets (2)</text>
<rect x="957" y="1591" width="444" height="200" class="n"/>
<rect x="965" y="1603" width="402" height="18" fill="#c8c8c8"/><rect x="965" y="1621" width="402" height="80" fill="#eee"/><rect x="1036" y="1636" width="76" height="52" fill="#fff"/>
<use href="#radar" transform="translate(1073 1664) scale(.82 .8)"/><use href="#radar" transform="translate(1073 1735) scale(.82 .8)"/>
<rect x="965" y="1603" width="402" height="169" class="n"/><path d="M1185 1603V1772M1226 1603V1772M1257 1603V1772M1303 1603V1772" class="nt"/>
<text x="1077" y="1615.5" class="m">Plot</text><text x="1206" y="1615.5" class="m">alpha</text><text x="1242" y="1615.5" class="m">eta</text><text x="1280" y="1615.5" class="m">kappa</text><text x="1333" y="1615.5" class="m">Remove</text>
<text x="1206" y="1663" class="m">10</text><text x="1242" y="1663" class="m">10</text><text x="1280" y="1663" class="m">10</text><text x="1206" y="1743" class="m">10</text><text x="1242" y="1743" class="m">1</text><text x="1280" y="1743" class="m">0.5</text>
<use href="#chk" x="1333" y="1661"/><use href="#chk" x="1333" y="1741"/><use href="#ck" x="1333" y="1741"/>
<rect x="1377" y="1603" width="14" height="145" class="bt"/><path d="M1377 1612H1391M1377 1738H1391" class="nt"/><rect x="1380" y="1614.5" width="8" height="21" rx="3" fill="#111"/><path d="M1380 1610L1384 1605L1388 1610ZM1380 1740H1388L1384 1746Z" fill="#111"/>
</g>

<g id="connectors">
<path class="arrow" d="M358 196C420 215 470 240 503 291"/>
<path class="arrow" d="M982 824H1133"/>
<path class="arrow" d="M2488 846H2946"/>
<path class="arrow" d="M2515 456H2980"/>
<path class="arrow" d="M2514 391H2620"/>
<path class="arrow" d="M1278 1048C1120 1100 960 1190 874 1389"/>
<path class="arrow" d="M1476 1212C1420 1225 1360 1250 1331 1302"/>
<path class="arrow" d="M1723 987C1760 1130 1850 1200 2053 1256"/>
<path class="arrow" d="M2166 979C2190 1110 2240 1180 2350 1226"/>
</g>
</svg>
